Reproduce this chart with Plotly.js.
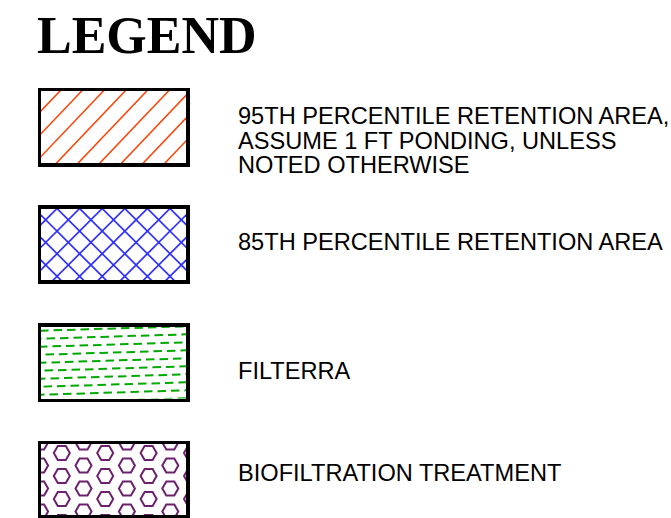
<!DOCTYPE html>
<html><head><meta charset="utf-8">
<script src="https://cdn.plot.ly/plotly-3.0.1.min.js"></script>
<style>html,body{margin:0;padding:0;background:#fff;}#chart{width:671px;height:518px;}</style>
</head><body><div id="chart"></div>
<script>
// ---- legend content ----
var legendTitle = 'LEGEND';
var labels = [
  '95TH PERCENTILE RETENTION AREA,<br>ASSUME 1 FT PONDING, UNLESS<br>NOTED OTHERWISE',
  '85TH PERCENTILE RETENTION AREA',
  'FILTERRA',
  'BIOFILTRATION TREATMENT'
];
var hatchKinds = ['diagonal', 'crosshatch', 'dashes', 'hexagons'];
var hatchColors = ['#ff4000', '#2f2fff', '#00a800', '#6c216c'];

// ---- layout geometry (pixels) ----
var PW = 671, PH = 518;
var boxes = [
  {l: 41, r: 186, t: 91,    b: 163},
  {l: 41, r: 186, t: 208.5, b: 280},
  {l: 41, r: 186, t: 326.5, b: 398.5},
  {l: 41, r: 186, t: 444,   b: 515}
];
var labelLineCenters = [[116, 140.5, 165], [242], [371], [473]];
var labelX = 236;

function suffix(i) { return i === 0 ? '' : String(i + 1); }

var traces = [];
var layout = {
  width: PW, height: PH,
  margin: {l: 0, r: 0, t: 0, b: 0, pad: 0},
  paper_bgcolor: '#ffffff', plot_bgcolor: '#ffffff',
  showlegend: false,
  annotations: []
};

boxes.forEach(function (bx, i) {
  var s = suffix(i);
  var W = bx.r - bx.l, H = bx.b - bx.t;
  var axCommon = {
    showgrid: false, zeroline: false, showticklabels: false, ticks: '',
    showline: true, mirror: true, linecolor: '#000', linewidth: 3.5, fixedrange: true
  };
  layout['xaxis' + s] = Object.assign({}, axCommon, {
    domain: [bx.l / PW, bx.r / PW], range: [0, W], anchor: 'y' + s
  });
  layout['yaxis' + s] = Object.assign({}, axCommon, {
    domain: [1 - bx.b / PH, 1 - bx.t / PH], range: [0, H], anchor: 'x' + s
  });
  var kind = hatchKinds[i], col = hatchColors[i];
  var xs = [], ys = [], k;
  if (kind === 'diagonal') {
    var m = 1.05, per = 21.7, x0 = 19;
    for (k = -5; k <= 10; k++) {
      var xk = x0 + per * k;
      xs.push(xk - (H + 5) / m, xk + 5 / m, null);
      ys.push(-5, H + 5, null);
    }
    traces.push({type: 'scatter', mode: 'lines', x: xs, y: ys, xaxis: 'x' + s, yaxis: 'y' + s,
      line: {color: col, width: 1.5}, hoverinfo: 'skip'});
  } else if (kind === 'crosshatch') {
    var per2 = 22.6, x02 = 16;
    for (k = -5; k <= 10; k++) {
      var xk2 = x02 + per2 * k;
      xs.push(xk2 - (H + 5), xk2 + 5, null);
      ys.push(-5, H + 5, null);
      xs.push(xk2 - 5, xk2 + H + 5, null);
      ys.push(H + 5, -5, null);
    }
    traces.push({type: 'scatter', mode: 'lines', x: xs, y: ys, xaxis: 'x' + s, yaxis: 'y' + s,
      line: {color: col, width: 1.7}, hoverinfo: 'skip'});
  } else if (kind === 'dashes') {
    var slope = 0.03, rowPer = 8, r0 = 4.2;
    for (k = -1; k <= 9; k++) {
      var yLeft = H - (r0 + rowPer * k);
      var xa = -1 - ((k * 7) % 13 + 13) % 13, xb = W + 5;
      traces.push({type: 'scatter', mode: 'lines', x: [xa, xb],
        y: [yLeft + slope * xa, yLeft + slope * xb], xaxis: 'x' + s, yaxis: 'y' + s,
        line: {color: col, width: 2, dash: '8.5px,5px'}, hoverinfo: 'skip'});
    }
  } else if (kind === 'hexagons') {
    var colPer = 21.7, cx0 = -0.9, vPer = 23, evenOff = -1.5, oddOff = 9;
    for (var j = 0; j <= 7; j++) {
      var off = (j % 2 === 0) ? evenOff : oddOff;
      for (var r = 0; r <= 3; r++) {
        var ry = off + vPer * r;
        if (ry > H + 8) continue;
        xs.push(cx0 + colPer * j);
        ys.push(H - ry);
      }
    }
    traces.push({type: 'scatter', mode: 'markers', x: xs, y: ys, xaxis: 'x' + s, yaxis: 'y' + s,
      cliponaxis: true,
      marker: {symbol: 'hexagon2-open', size: 16, color: col, line: {color: col, width: 2}},
      hoverinfo: 'skip'});
  }
  // labels
  var parts = labels[i].split('<br>');
  parts.forEach(function (p, n) {
    layout.annotations.push({
      text: p, xref: 'paper', yref: 'paper', x: labelX / PW, y: 1 - labelLineCenters[i][n] / PH,
      xanchor: 'left', yanchor: 'middle', showarrow: false,
      font: {family: 'Liberation Sans, Arial, sans-serif', size: 23.6, color: '#000'}
    });
  });
});

layout.annotations.push({
  text: '<b>' + legendTitle + '</b>', xref: 'paper', yref: 'paper', x: 35 / PW, y: 1 - 36 / PH,
  xanchor: 'left', yanchor: 'middle', showarrow: false,
  font: {family: 'Liberation Serif, Times New Roman, serif', size: 52, color: '#000'}
});

Plotly.newPlot('chart', traces, layout, {staticPlot: true, displayModeBar: false});
</script>
</body></html>
